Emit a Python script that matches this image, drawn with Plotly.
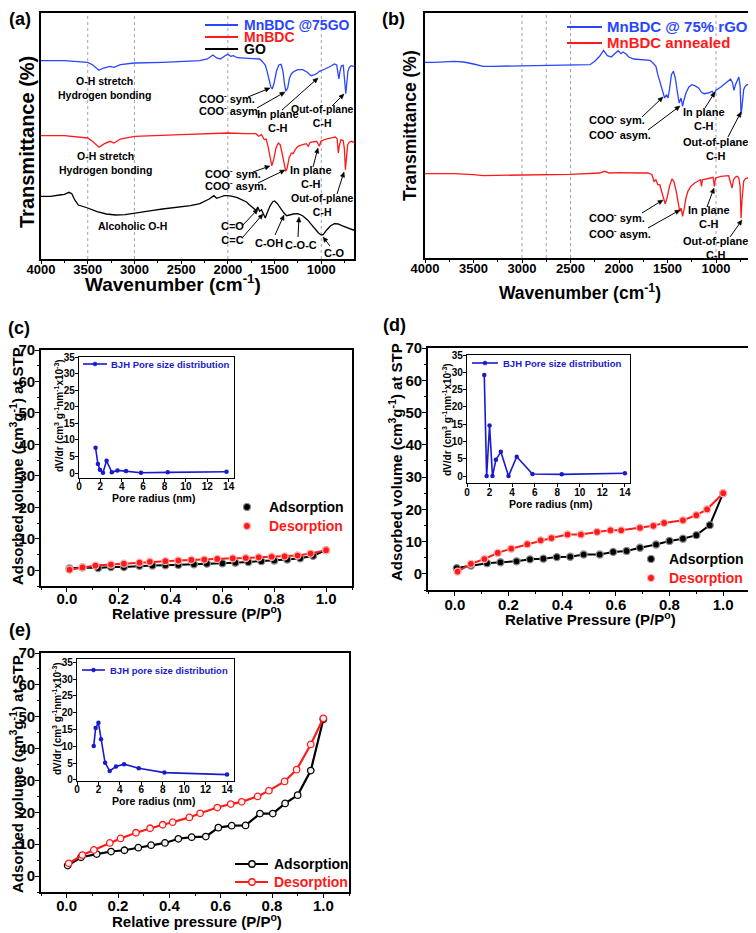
import math
import plotly.graph_objects as go

W, H = 756, 933
OFF = 8  # the page body adds an 8 px margin around the figure
FAM = "Arial, 'Liberation Sans', Helvetica, sans-serif"
BLUE = "#2a45ff"
RED = "#ff1a1a"
IBLUE = "#1a1acc"

# ---------------- (a) FTIR ----------------
a_gomof_wn = [4000, 3750, 3500, 3450, 3380, 3330, 3260, 3220, 3150, 3000, 2700, 2500, 2300, 2220, 2160, 2120, 2080, 2030, 2000, 1970,
              1940, 1900, 1800, 1700, 1660, 1630, 1600, 1580, 1560, 1540, 1525, 1505, 1480, 1455, 1430, 1410, 1395, 1380, 1360, 1340,
              1320, 1290, 1250, 1200, 1150, 1110, 1080, 1050, 1020, 1000, 960, 900, 860, 835, 822, 812, 800, 785, 765, 755,
              745, 738, 728, 715, 700, 680, 650]
a_gomof_t = [198.3, 198.3, 196.7, 194.3, 188.7, 191, 192.7, 191.7, 194.3, 196, 196.7, 197.3, 198.3, 200, 204, 201, 200, 203.3, 204.7, 202.7,
             203.3, 201.3, 201, 200.7, 200, 197.3, 194, 187.7, 179.3, 172, 170, 176, 187.7, 194, 194.7, 187.7, 176, 167.7, 171, 181,
             185.3, 187.7, 189.3, 189.3, 186.7, 183.3, 184, 185.3, 187.7, 188.3, 190, 192.7, 195, 194, 187.7, 180, 187.7, 193.3, 193.7, 186,
             172.7, 165.3, 176, 187.7, 191.7, 193.3, 192.7]
a_mof_wn = [4000, 3750, 3500, 3450, 3380, 3320, 3260, 3220, 3150, 3000, 2500, 2200, 2000, 1800, 1700, 1670, 1640, 1610, 1590, 1570,
            1550, 1530, 1510, 1485, 1460, 1440, 1420, 1395, 1380, 1365, 1345, 1320, 1300, 1280, 1250, 1200, 1160, 1140, 1120, 1050,
            1020, 1005, 950, 880, 850, 830, 818, 808, 790, 765, 752, 742, 732, 718, 700, 680, 650]
a_mof_t = [123.3, 123.3, 121, 117.7, 111.7, 115.3, 117.7, 116, 120, 122.7, 124.3, 125.3, 126, 125.3, 125.3, 122.7, 124.3, 119.3, 120, 112.7,
           101, 93.3, 99.3, 111, 116, 114.3, 106, 94.3, 87.7, 91, 101, 106, 105.3, 109.3, 112.7, 114.3, 115.3, 112.7, 116.7, 117.7,
           112.7, 117.7, 120, 121.3, 122, 120, 106, 112.7, 119.3, 118.3, 109.3, 89.3, 99.3, 114.3, 116.7, 117.7, 116.7]
a_go_wn = [4000, 3900, 3800, 3750, 3700, 3670, 3640, 3600, 3500, 3400, 3300, 3200, 3100, 3000, 2900, 2800, 2700, 2500, 2400, 2300,
           2250, 2200, 2150, 2120, 2080, 2040, 2000, 1950, 1900, 1850, 1800, 1770, 1730, 1700, 1680, 1660, 1640, 1620, 1600, 1580,
           1550, 1520, 1500, 1470, 1440, 1400, 1370, 1330, 1300, 1250, 1200, 1150, 1100, 1060, 1030, 1000, 980, 940, 900, 860,
           820, 780, 740, 700, 650]
a_go_t = [62.7, 62.7, 64, 64.7, 66.7, 65.3, 59.3, 54, 51, 47.3, 45, 44, 44.3, 46, 47.3, 48.7, 50, 52, 53.3, 55.3,
          57.7, 60, 63.3, 60.7, 62, 63.3, 63.3, 62.7, 61.3, 59.3, 57, 54.3, 51, 48.7, 52, 47.7, 49.3, 44.3, 41, 46,
          52.7, 57.3, 58, 55.3, 51, 46, 43.3, 44.3, 45, 45.3, 43.3, 39.3, 33.3, 29.3, 26, 24, 24.3, 29.3, 33.3, 35.3,
          35, 33.3, 32, 30, 28.7]

# ---------------- (b) FTIR ----------------
b_rgo_wn = [4000, 3900, 3700, 3600, 3500, 3400, 3300, 3000, 2750, 2500, 2300, 2250, 2200, 2160, 2120, 2080, 2040, 2010, 1980, 1960,
            1930, 1900, 1850, 1750, 1680, 1650, 1620, 1600, 1570, 1550, 1530, 1510, 1495, 1480, 1460, 1440, 1420, 1400, 1380, 1360,
            1345, 1330, 1310, 1280, 1250, 1220, 1180, 1150, 1120, 1080, 1040, 1020, 1000, 950, 900, 870, 850, 830, 815, 800,
            780, 765, 752, 742, 732, 715, 700, 680, 650]
b_rgo_t = [195.7, 195.7, 196.7, 196, 194, 191.7, 191.7, 192.3, 192.3, 193, 193.3, 196.7, 201.7, 207.7, 202.3, 201, 205, 207.3, 204.3, 206,
           204.3, 201, 199, 198.3, 197.7, 195, 191.7, 183.3, 173.3, 165, 160, 163.3, 160, 168.3, 183.3, 186.7, 180, 166.7, 155, 160,
           151.7, 158.3, 165, 171, 173.3, 172.3, 170, 165.7, 164.3, 165, 166.7, 163.7, 167.7, 171, 175, 178.3, 179, 175, 167.7, 173.3,
           179, 181, 172.7, 143.3, 151.7, 168.3, 171.7, 173.3, 173.3]
b_ann_wn = [4000, 3700, 3500, 3400, 3000, 2500, 2200, 2150, 2100, 2000, 1800, 1700, 1660, 1640, 1620, 1600, 1580, 1560, 1540, 1525,
            1505, 1480, 1455, 1435, 1410, 1390, 1375, 1360, 1345, 1330, 1310, 1290, 1260, 1220, 1180, 1160, 1150, 1140, 1100, 1060,
            1030, 1018, 1005, 950, 900, 870, 850, 835, 820, 800, 780, 765, 752, 742, 732, 715, 700, 680, 650]
b_ann_t = [84.3, 84.3, 83.3, 82.3, 83, 83.7, 85, 86.7, 85, 85.3, 85, 85, 83.3, 76.7, 78.3, 73.3, 73.3, 66.7, 58.3, 54.3,
           60, 71.7, 79, 76.7, 66.7, 55, 46.7, 50, 41.7, 48.3, 60, 66.7, 71.7, 75, 76.7, 78.3, 71.7, 78.3, 79, 80,
           80.7, 71.7, 80, 81.7, 82.3, 82.3, 75, 70, 78.3, 81, 81.7, 80, 71.7, 40, 58.3, 76.7, 79, 80, 80]

# ---------------- (c) isotherm + BJH ----------------
c_ads_p = [0.01, 0.06, 0.12, 0.17, 0.22, 0.28, 0.33, 0.38, 0.43, 0.49, 0.54, 0.60, 0.65, 0.70, 0.75, 0.80, 0.85, 0.90, 0.95, 1.00]
c_ads_v = [0.6, 0.9, 0.7, 1.0, 1.0, 1.4, 1.5, 1.6, 1.7, 1.9, 2.1, 2.2, 2.4, 2.6, 2.9, 3.1, 3.4, 3.8, 4.6, 6.4]
c_des_p = [0.01, 0.06, 0.11, 0.17, 0.22, 0.28, 0.32, 0.38, 0.43, 0.48, 0.53, 0.58, 0.64, 0.69, 0.74, 0.79, 0.84, 0.89, 0.94, 1.00]
c_des_v = [0.2, 0.9, 1.5, 1.8, 2.1, 2.4, 2.7, 2.9, 3.1, 3.3, 3.4, 3.6, 3.8, 3.9, 4.1, 4.3, 4.4, 4.7, 5.3, 6.4]
c_bjh_r = [1.55, 1.77, 1.96, 2.24, 2.58, 3.07, 3.6, 4.4, 5.8, 8.3, 13.8]
c_bjh_v = [7.6, 2.7, 1.0, 0.1, 3.7, 0.2, 0.8, 0.6, 0.1, 0.2, 0.4]

# ---------------- (d) isotherm + BJH ----------------
d_ads_p = [0.007, 0.06, 0.12, 0.17, 0.23, 0.28, 0.33, 0.38, 0.43, 0.48, 0.54, 0.59, 0.64, 0.69, 0.75, 0.80, 0.85, 0.90, 0.95, 1.0]
d_ads_v = [1.8, 2.6, 3.3, 3.6, 3.9, 4.5, 4.7, 5.2, 5.3, 6.0, 6.0, 6.8, 7.1, 8.1, 9.1, 10.2, 10.9, 12.0, 15.1, 25.0]
d_des_p = [0.01, 0.06, 0.11, 0.16, 0.21, 0.27, 0.32, 0.36, 0.42, 0.47, 0.53, 0.58, 0.62, 0.69, 0.74, 0.78, 0.85, 0.90, 0.94, 1.0]
d_des_v = [0.7, 3.1, 4.6, 6.5, 7.8, 9.2, 10.4, 11.1, 12.2, 12.2, 13.0, 13.5, 13.5, 14.3, 14.9, 15.8, 16.6, 18.2, 20.0, 25.0]
d_bjh_r = [1.53, 1.74, 2.0, 2.26, 2.56, 3.0, 3.68, 4.41, 5.8, 8.4, 14.0]
d_bjh_v = [29.2, 0.0, 14.6, 0.0, 4.7, 7.0, 0.0, 5.6, 0.6, 0.5, 0.8]

# ---------------- (e) isotherm + BJH ----------------
e_ads_p = [0.004, 0.056, 0.117, 0.173, 0.225, 0.279, 0.329, 0.383, 0.435, 0.487, 0.542, 0.591, 0.643, 0.697, 0.753, 0.803, 0.851, 0.9, 0.951, 1.0]
e_ads_v = [3.3, 5.9, 6.9, 7.7, 8.1, 8.9, 9.7, 10.4, 11.7, 12.2, 12.4, 15.2, 15.8, 15.9, 19.6, 19.6, 22.8, 25.4, 33.1, 49.2]
e_des_p = [0.008, 0.061, 0.106, 0.168, 0.21, 0.27, 0.325, 0.374, 0.413, 0.478, 0.52, 0.587, 0.639, 0.682, 0.744, 0.788, 0.849, 0.896, 0.951, 1.0]
e_des_v = [4.0, 6.6, 8.2, 10.4, 11.8, 13.6, 15.0, 16.1, 16.9, 18.4, 19.7, 21.5, 22.6, 23.3, 25.0, 26.8, 29.7, 33.4, 41.3, 49.5]
e_bjh_r = [1.56, 1.74, 2.0, 2.24, 2.62, 3.05, 3.64, 4.39, 5.76, 8.16, 14.0]
e_bjh_v = [10.1, 15.5, 17.0, 12.1, 5.1, 2.7, 4.0, 4.7, 3.5, 2.2, 1.6]


def PX(x):
    return (x - OFF) / W


def PY(y):
    return 1 - (y - OFF) / H


fig = go.Figure()


def spectrum(x, y, xa, ya, color):
    fig.add_trace(go.Scatter(x=x, y=y, xaxis=xa, yaxis=ya, mode="lines",
                             line=dict(color=color, width=1.3), showlegend=False, hoverinfo="skip"))


def iso(x, y, xa, ya, color, edge, fill, size, lw):
    fig.add_trace(go.Scatter(x=x, y=y, xaxis=xa, yaxis=ya, mode="lines+markers",
                             line=dict(color=color, width=lw),
                             marker=dict(symbol="circle", size=size, color=fill, line=dict(color=edge, width=1.3)),
                             showlegend=False, hoverinfo="skip"))


def bjh(x, y, xa, ya):
    fig.add_trace(go.Scatter(x=x, y=y, xaxis=xa, yaxis=ya, mode="lines+markers",
                             line=dict(color=IBLUE, width=1.6),
                             marker=dict(symbol="circle", size=4.5, color=IBLUE),
                             showlegend=False, hoverinfo="skip"))


spectrum(a_gomof_wn, a_gomof_t, "x", "y", BLUE)
spectrum(a_mof_wn, a_mof_t, "x", "y", RED)
spectrum(a_go_wn, a_go_t, "x", "y", "black")
spectrum(b_rgo_wn, b_rgo_t, "x2", "y2", BLUE)
spectrum(b_ann_wn, b_ann_t, "x2", "y2", RED)

iso(c_ads_p, c_ads_v, "x3", "y3", "black", "#8a8a8a", "black", 7, 2)
iso(c_des_p, c_des_v, "x3", "y3", RED, "#ffb0b0", RED, 7, 2)
bjh(c_bjh_r, c_bjh_v, "x4", "y4")
iso(d_ads_p, d_ads_v, "x5", "y5", "black", "#8a8a8a", "black", 7, 2)
iso(d_des_p, d_des_v, "x5", "y5", RED, "#ffb0b0", RED, 7, 2)
bjh(d_bjh_r, d_bjh_v, "x6", "y6")
iso(e_ads_p, e_ads_v, "x7", "y7", "black", "black", "#f2f2f2", 6.5, 2.2)
iso(e_des_p, e_des_v, "x7", "y7", RED, RED, "#fff0f0", 6.5, 2.2)
bjh(e_bjh_r, e_bjh_v, "x8", "y8")


def font(size, color="black"):
    return dict(family=FAM, size=size, color=color, weight="bold")


def xax(domain, rng, anchor, dtick, size, minor=None, fmt=None, lw=1.6, ticklen=4, standoff=0):
    d = dict(domain=[PX(domain[0]), PX(domain[1])], range=rng, anchor=anchor, automargin=False,
             showline=True, mirror=True, linecolor="black", linewidth=lw,
             showgrid=False, zeroline=False, ticks="outside", ticklen=ticklen, tickwidth=1.3,
             tickcolor="black", dtick=dtick, tick0=0, tickfont=font(size), ticklabelstandoff=standoff)
    if fmt:
        d["tickformat"] = fmt
    if minor:
        d["minor"] = dict(dtick=minor, ticks="outside", ticklen=2.5, tickcolor="black", tickwidth=1)
    return d


def yax(domain, rng, anchor, dtick=None, size=12, minor=None, labels=True, lw=1.6, ticklen=4, standoff=0):
    d = dict(domain=[PY(domain[1]), PY(domain[0])], range=rng, anchor=anchor, automargin=False,
             showline=True, mirror=True, linecolor="black", linewidth=lw,
             showgrid=False, zeroline=False, tickcolor="black", tickwidth=1.3)
    if labels:
        d.update(ticks="outside", ticklen=ticklen, dtick=dtick, tick0=0, tickfont=font(size),
                 ticklabelstandoff=standoff)
        if minor:
            d["minor"] = dict(dtick=minor, ticks="outside", ticklen=2.5, tickcolor="black", tickwidth=1)
    else:
        d.update(ticks="", showticklabels=False)
    return d


layout = dict(
    width=W, height=H, autosize=False, margin=dict(l=0, r=0, t=0, b=0, autoexpand=False),
    paper_bgcolor="white", plot_bgcolor="white", showlegend=False,
    xaxis=xax((41, 354), [4000, 650], "y", 500, 13, minor=250, ticklen=3, standoff=-5),
    yaxis=yax((13, 259), [0, 246], "x", labels=False),
    xaxis2=xax((425, 750), [4000, 650], "y2", 500, 13, minor=250, ticklen=3, standoff=-5),
    yaxis2=yax((13, 258), [0, 245], "x2", labels=False),
    xaxis3=xax((41, 352), [-0.1, 1.1], "y3", 0.2, 15, minor=0.1, fmt=".1f", standoff=-6),
    yaxis3=yax((350, 586), [-5, 70], "x3", 10, 15, minor=5, standoff=-3),
    xaxis4=xax((79, 234), [0, 14.5], "y4", 2, 10, lw=1.2, ticklen=3, standoff=-4),
    yaxis4=yax((357, 478), [-1.5, 35], "x4", 5, 10, lw=1.2, ticklen=3, standoff=-2),
    xaxis5=xax((428, 750), [-0.1, 1.1], "y5", 0.2, 15, minor=0.1, fmt=".1f", standoff=-4),
    yaxis5=yax((348, 590), [-5, 70], "x5", 10, 15, minor=5, standoff=-3),
    xaxis6=xax((467, 630), [0, 14.45], "y6", 2, 10, lw=1.2, ticklen=3, standoff=-3),
    yaxis6=yax((355, 483), [-2, 35], "x6", 5, 10, lw=1.2, ticklen=3, standoff=-2),
    xaxis7=xax((41, 349), [-0.1, 1.1], "y7", 0.2, 15, minor=0.1, fmt=".1f", standoff=-5),
    yaxis7=yax((653, 892), [-5, 70], "x7", 10, 15, minor=5, standoff=-3),
    xaxis8=xax((77, 234), [0, 14.65], "y8", 2, 10, lw=1.2, ticklen=3, standoff=-4),
    yaxis8=yax((659, 781), [-0.3, 36], "x8", 5, 10, lw=1.2, ticklen=3, standoff=-2),
)
fig.update_layout(**layout)

ann = []
shapes = []


def txt(x, y, text, size, color="black", anchor="center", angle=0):
    ann.append(dict(x=PX(x), y=PY(y), xref="paper", yref="paper", text=text, showarrow=False,
                    xanchor=anchor, yanchor="middle", textangle=angle, font=font(size, color)))


def arrow(tx, ty, hx, hy, head=5.0, half=2.2):
    dx, dy = hx - tx, hy - ty
    n = math.hypot(dx, dy)
    ux, uy = dx / n, dy / n
    bx, by = hx - ux * head, hy - uy * head
    shapes.append(dict(type="line", xref="paper", yref="paper", x0=PX(tx), y0=PY(ty), x1=PX(bx), y1=PY(by),
                       line=dict(color="black", width=1)))
    p1 = (bx - uy * half, by + ux * half)
    p2 = (bx + uy * half, by - ux * half)
    path = "M {} {} L {} {} L {} {} Z".format(PX(hx), PY(hy), PX(p1[0]), PY(p1[1]), PX(p2[0]), PY(p2[1]))
    shapes.append(dict(type="path", xref="paper", yref="paper", path=path, fillcolor="black",
                       line=dict(color="black", width=0.5)))


def leg_line(x0, x1, y, color, w=2):
    shapes.append(dict(type="line", xref="paper", yref="paper", x0=PX(x0), x1=PX(x1), y0=PY(y), y1=PY(y),
                       line=dict(color=color, width=w)))


def leg_dot(cx, cy, r, fill, edge, w=1.2):
    shapes.append(dict(type="circle", xref="paper", yref="paper", x0=PX(cx - r), x1=PX(cx + r),
                       y0=PY(cy + r), y1=PY(cy - r), fillcolor=fill, line=dict(color=edge, width=w)))


# guide lines in FTIR panels
for wn in [3500, 3000, 2000, 1000]:
    shapes.append(dict(type="line", xref="x", yref="y domain", x0=wn, x1=wn, y0=0, y1=1,
                       line=dict(color="#9aa3b5", width=1, dash="dot"), layer="below"))
for wn in [3000, 2750, 2500, 1000]:
    shapes.append(dict(type="line", xref="x2", yref="y2 domain", x0=wn, x1=wn, y0=0, y1=1,
                       line=dict(color="#9aa3b5", width=1, dash="dot"), layer="below"))

# panel letters
txt(20, 19, "(a)", 18)
txt(393, 19, "(b)", 18)
txt(19, 328, "(c)", 18)
txt(395, 325, "(d)", 18)
txt(20, 630, "(e)", 18)

# axis titles
WN = "Wavenumber (cm<sup>-1</sup>)"
TR = "Transmittance (%)"
RP = "Relative pressure (P/P<sup>o</sup>)"
AV = "Adsorbed volume (cm<sup>3</sup>g<sup>-1</sup>) at STP"
txt(173, 283, WN, 19)
txt(27, 142, TR, 20, angle=-90)
txt(580, 292, WN, 17.5)
txt(410, 126, TR, 17.5, angle=-90)
txt(197, 612, RP, 15)
txt(16, 466, AV, 15, angle=-90)
txt(590, 618, "Relative Pressure (P/P<sup>o</sup>)", 15)
txt(395, 462, AV, 15, angle=-90)
txt(197, 920, RP, 15)
txt(16, 774, AV, 15, angle=-90)

INSET_Y = "dV/dr (cm<sup>3</sup> g<sup>-1</sup>nm<sup>-1</sup>x10<sup>-3</sup>)"
txt(59, 416, INSET_Y, 10, angle=-90)
txt(153, 498, "Pore radius (nm)", 10.5)
txt(447, 420, INSET_Y, 10, angle=-90)
txt(550, 504, "Pore radius (nm)", 10.5)
txt(57, 719, INSET_Y, 10, angle=-90)
txt(153, 801, "Pore radius (nm)", 10.5)

# legends (a)
for y, c, label in [(25, BLUE, "MnBDC @75GO"), (37, RED, "MnBDC"), (49, "black", "GO")]:
    leg_line(205, 238, y, c)
    txt(242, y, label, 14, c, anchor="left")
# legends (b)
for y, c, label in [(27, BLUE, "MnBDC @ 75% rGO"), (43, RED, "MnBDC annealed")]:
    leg_line(567, 602, y, c)
    txt(605, y, label, 15, c, anchor="left")
# legends (c), (d)
for cx, tx, y0 in [(247, 267, 507), (651, 667, 559)]:
    leg_dot(cx, y0, 3.5, "black", "#8a8a8a")
    txt(tx, y0, "Adsorption", 14, "black", anchor="left")
    leg_dot(cx, y0 + 19, 3.5, RED, "#ffb0b0")
    txt(tx, y0 + 19, "Desorption", 14, RED, anchor="left")
# legend (e)
leg_line(235, 268, 864, "black", 2.2)
leg_dot(252, 864, 3.2, "#f2f2f2", "black", 1.4)
txt(272, 864, "Adsorption", 14, "black", anchor="left")
leg_line(235, 268, 882, RED, 2.2)
leg_dot(252, 882, 3.2, "#fff0f0", RED, 1.4)
txt(272, 882, "Desorption", 14, RED, anchor="left")
# inset legends
for x0, x1, y, tx, label in [(83, 107, 364, 109, "BJH Pore size distribution"),
                             (472, 498, 363, 501, "BJH Pore size distribution"),
                             (82, 105, 670, 108, "BJH pore size distribution")]:
    leg_line(x0, x1, y, IBLUE, 1.6)
    leg_dot((x0 + x1) / 2, y, 2, IBLUE, IBLUE, 0.5)
    txt(tx, y, label, 9.5, IBLUE, anchor="left")

# FTIR annotations (a)
OH = "O-H stretch<br>Hydrogen bonding"
SYM = "COO<sup>-</sup> sym."
ASYM = "COO<sup>-</sup> asym."
txt(104, 87.5, OH, 10.5)
txt(105, 162.5, OH, 10.5)
txt(132, 226, "Alcoholic O-H", 10.5)
txt(197, 98, SYM, 11, anchor="left")
txt(197, 110, ASYM, 11, anchor="left")
txt(278, 121, "In plane<br>C-H", 11)
txt(322, 116.5, "Out-of-plane<br>C-H", 10.5)
txt(203, 173, SYM, 11, anchor="left")
txt(203, 185, ASYM, 11, anchor="left")
txt(311, 177.5, "In plane<br>C-H", 11)
txt(322, 205, "Out-of-plane<br>C-H", 10.5)
txt(232, 233, "C=O<br>C=C", 11)
txt(269, 243, "C-OH", 11)
txt(301, 245, "C-O-C", 11)
txt(334, 253, "C-O", 11)
for t in [(248, 97, 270, 88), (257, 108, 285, 92), (282, 110, 318, 78), (332, 106, 344, 94),
          (253, 172, 270, 166), (258, 183, 285, 170), (313, 167, 318, 148), (337, 194, 344, 172),
          (243, 225, 258, 209), (243, 237, 263, 214), (275, 235, 284, 215), (298, 237, 299, 217),
          (330, 246, 323, 237)]:
    arrow(*t)

# FTIR annotations (b)
txt(587, 119, SYM, 11, anchor="left")
txt(587, 134, ASYM, 11, anchor="left")
txt(704, 119.5, "In plane<br>C-H", 11)
txt(715, 148.5, "Out-of-plane<br>C-H", 11)
txt(587, 217, SYM, 11, anchor="left")
txt(587, 233, ASYM, 11, anchor="left")
txt(709, 217, "In plane<br>C-H", 11)
txt(715, 247.5, "Out-of-plane<br>C-H", 11)
for t in [(642, 117, 663, 97), (648, 130, 680, 106), (705, 108, 715, 92), (728, 137, 741, 112),
          (642, 213, 663, 200), (648, 228, 680, 210), (707, 207, 714, 188), (730, 237, 742, 220)]:
    arrow(*t)

fig.update_layout(annotations=ann, shapes=shapes)
fig.write_html("out.html")
